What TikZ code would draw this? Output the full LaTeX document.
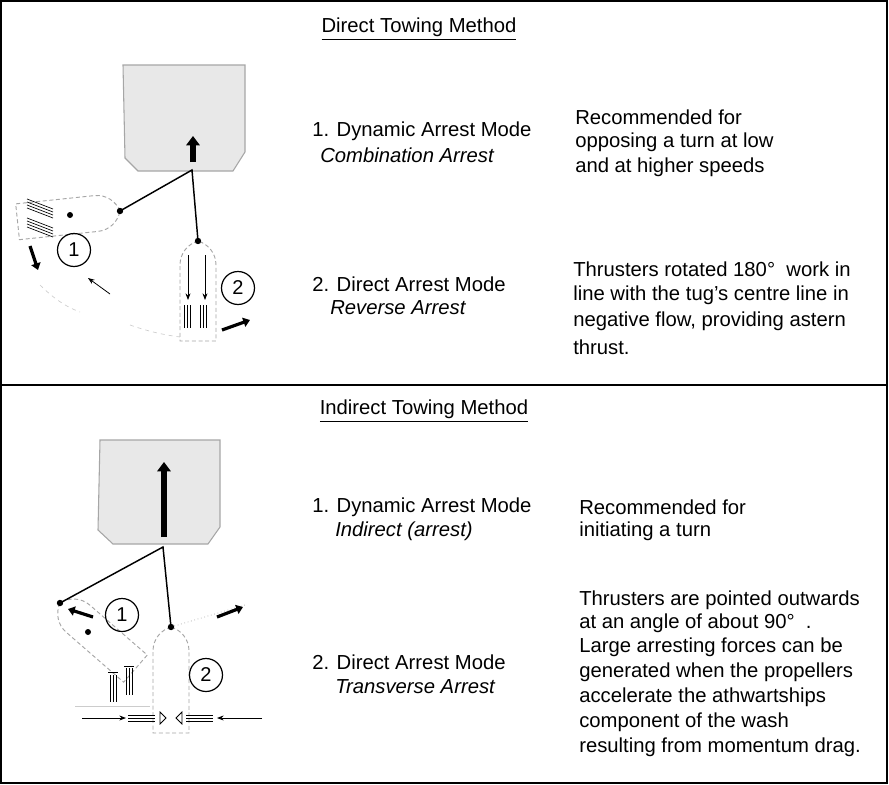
\documentclass[tikz,border=0pt]{standalone}
\usepackage{fontspec}
\setmainfont{Liberation Sans}
\usetikzlibrary{arrows.meta}
\begin{document}
\begin{tikzpicture}[x=0.75pt,y=-0.75pt,
  txt/.style={anchor=west,inner sep=0,font=\fontsize{15.2}{18}\selectfont},
  ttl/.style={inner sep=0,font=\fontsize{15.2}{18}\selectfont},
  ship/.style={draw=gray!70,fill=gray!18,line width=0.8pt},
  tow/.style={line width=1.1pt},
  num/.style={circle,draw,line width=0.9pt,minimum size=33*0.75pt,inner sep=0,font=\fontsize{15}{18}\selectfont},
  bigarr/.style={-{Triangle[length=7pt,width=10pt]},line width=4pt},
  thk/.style={-{Triangle[length=5pt,width=7pt]},line width=2.4pt},
  thn/.style={-{Stealth[length=5pt]},line width=0.6pt},
  wake/.style={gray!40,dashed,line width=0.5pt},
  tug/.pic={\draw[gray!70,densely dashed,line width=0.7pt,fill=white]
     (0,0) .. controls (3,10) and (12,18) .. (24,18) -- (#1,18) -- (#1,-18) -- (24,-18) .. controls (12,-18) and (3,-10) .. (0,0) -- cycle;
     \fill (0,0) circle (3.2);}]
\useasboundingbox (0,0) rectangle (889,785);
\draw[line width=0.8pt] (1,1) rectangle (887,783);
\draw[line width=0.8pt] (1,385) -- (887,385);

% ---------- top
\node[ttl] (t1) at (419,29) {\underline{Direct Towing Method}};
\draw[ship] (123,65) -- (245,65) -- (245,152) -- (233,171) -- (138,171) -- (125,158) -- cycle;
\draw[bigarr] (193,162) -- (193,136);
\coordinate (tp1) at (192,170);
\draw[wake] (40,285) .. controls (60,305) and (75,310) .. (80,312);
\draw[wake] (130,325) .. controls (150,332) and (165,335) .. (180,337);
\pic[shift={(120,211)},rotate=186] {tug=103};
\pic[shift={(198,241)},rotate=-90] {tug=100};
\coordinate (b1) at (120,211);
\coordinate (b2) at (198,241);
\fill (70,215) circle (3);
\foreach \d in {0,3,6,9} {\draw[line width=0.5pt] (27,199+\d) -- (53,209+\d); \draw[line width=0.5pt] (27,218+\d) -- (53,228+\d);}
\draw[tow] (b1) -- (tp1) -- (b2);
\draw[thn] (188,255) -- (188,300);
\draw[thn] (205,255) -- (205,300);
\foreach \xx in {184,187,190,200,203,206} \draw[line width=0.6pt] (\xx,305) -- (\xx,328);
\draw[thk] (30,246) -- (38,270);
\draw[thn] (110,294) -- (88,278);
\draw[thk] (222,330) -- (250,320);
\node[num] (n1) at (74,250) {1};
\node[num] (n2) at (238,288) {2};

\node[txt] (a1) at (312,131) {1. Dynamic Arrest Mode};
\node[txt] (a2) at (320,155) {\itshape Combination Arrest};
\node[txt] (r1) at (575,117) {Recommended for};
\node[txt] (r2) at (575,142) {opposing a turn at low};
\node[txt] (r3) at (575,167) {and at higher speeds};
\node[txt] (a3) at (312,284) {2. Direct Arrest Mode};
\node[txt] (a4) at (330,308) {\itshape Reverse Arrest};
\node[txt] (s1) at (573,269) {Thrusters rotated 180°\ \ work in};
\node[txt] (s2) at (573,295) {line with the tug’s centre line in};
\node[txt] (s3) at (573,321) {negative flow, providing astern};
\node[txt] (s4) at (573,347) {thrust.};

% ---------- bottom
\node[ttl] (t2) at (424,411) {\underline{Indirect Towing Method}};
\draw[ship] (100,440) -- (220,440) -- (220,527) -- (208,544) -- (113,544) -- (98,530) -- cycle;
\draw[bigarr] (164,537) -- (164,462);
\coordinate (tp2) at (163,547);
\draw[gray!60,dotted,line width=0.6pt] (171,627) -- (245,605);
\draw[gray!40,line width=0.5pt] (75,706) -- (150,706);
\pic[shift={(60,603)},rotate=-41] {tug=100};
\pic[shift={(171,627)},rotate=-90] {tug=106};
\coordinate (b3) at (60,603);
\coordinate (b4) at (171,627);
\fill (88,632) circle (3);
\foreach \xx in {110,113,116} \draw[line width=0.6pt] (\xx,675) -- (\xx,702);
\foreach \xx in {126,129,132} \draw[line width=0.6pt] (\xx,668) -- (\xx,695);
\draw[line width=0.6pt] (108,672) -- (118,672) (124,666) -- (134,666);
\draw[tow] (b3) -- (tp2) -- (b4);
\foreach \d in {-3,0,3} {\draw[line width=0.6pt] (128,718+\d) -- (155,718+\d); \draw[line width=0.6pt] (186,718+\d) -- (213,718+\d);}
\draw[line width=0.6pt] (160,712) -- (160,724) -- (166,718) -- cycle (182,712) -- (182,724) -- (176,718) -- cycle;
\draw[thn] (82,718) -- (126,718);
\draw[thn] (262,718) -- (217,718);
\draw[thk] (93,617) -- (68,609);
\draw[thk] (217,617) -- (243,607);
\node[num] (n3) at (122,615) {1};
\node[num] (n4) at (206,675) {2};

\node[txt] (c1) at (312,507) {1. Dynamic Arrest Mode};
\node[txt] (c2) at (335,531) {\itshape Indirect (arrest)};
\node[txt] (q1) at (579,507) {Recommended for};
\node[txt] (q2) at (579,531) {initiating a turn};
\node[txt] (c3) at (312,662) {2. Direct Arrest Mode};
\node[txt] (c4) at (335,687) {\itshape Transverse Arrest};
\node[txt] (u1) at (579,600) {Thrusters are pointed outwards};
\node[txt] (u2) at (579,623) {at an angle of about 90°\ \ .};
\node[txt] (u3) at (579,647) {Large arresting forces can be};
\node[txt] (u4) at (579,672) {generated when the propellers};
\node[txt] (u5) at (579,697) {accelerate the athwartships};
\node[txt] (u6) at (579,722) {component of the wash};
\node[txt] (u7) at (579,747) {resulting from momentum drag.};
\end{tikzpicture}
\end{document}
